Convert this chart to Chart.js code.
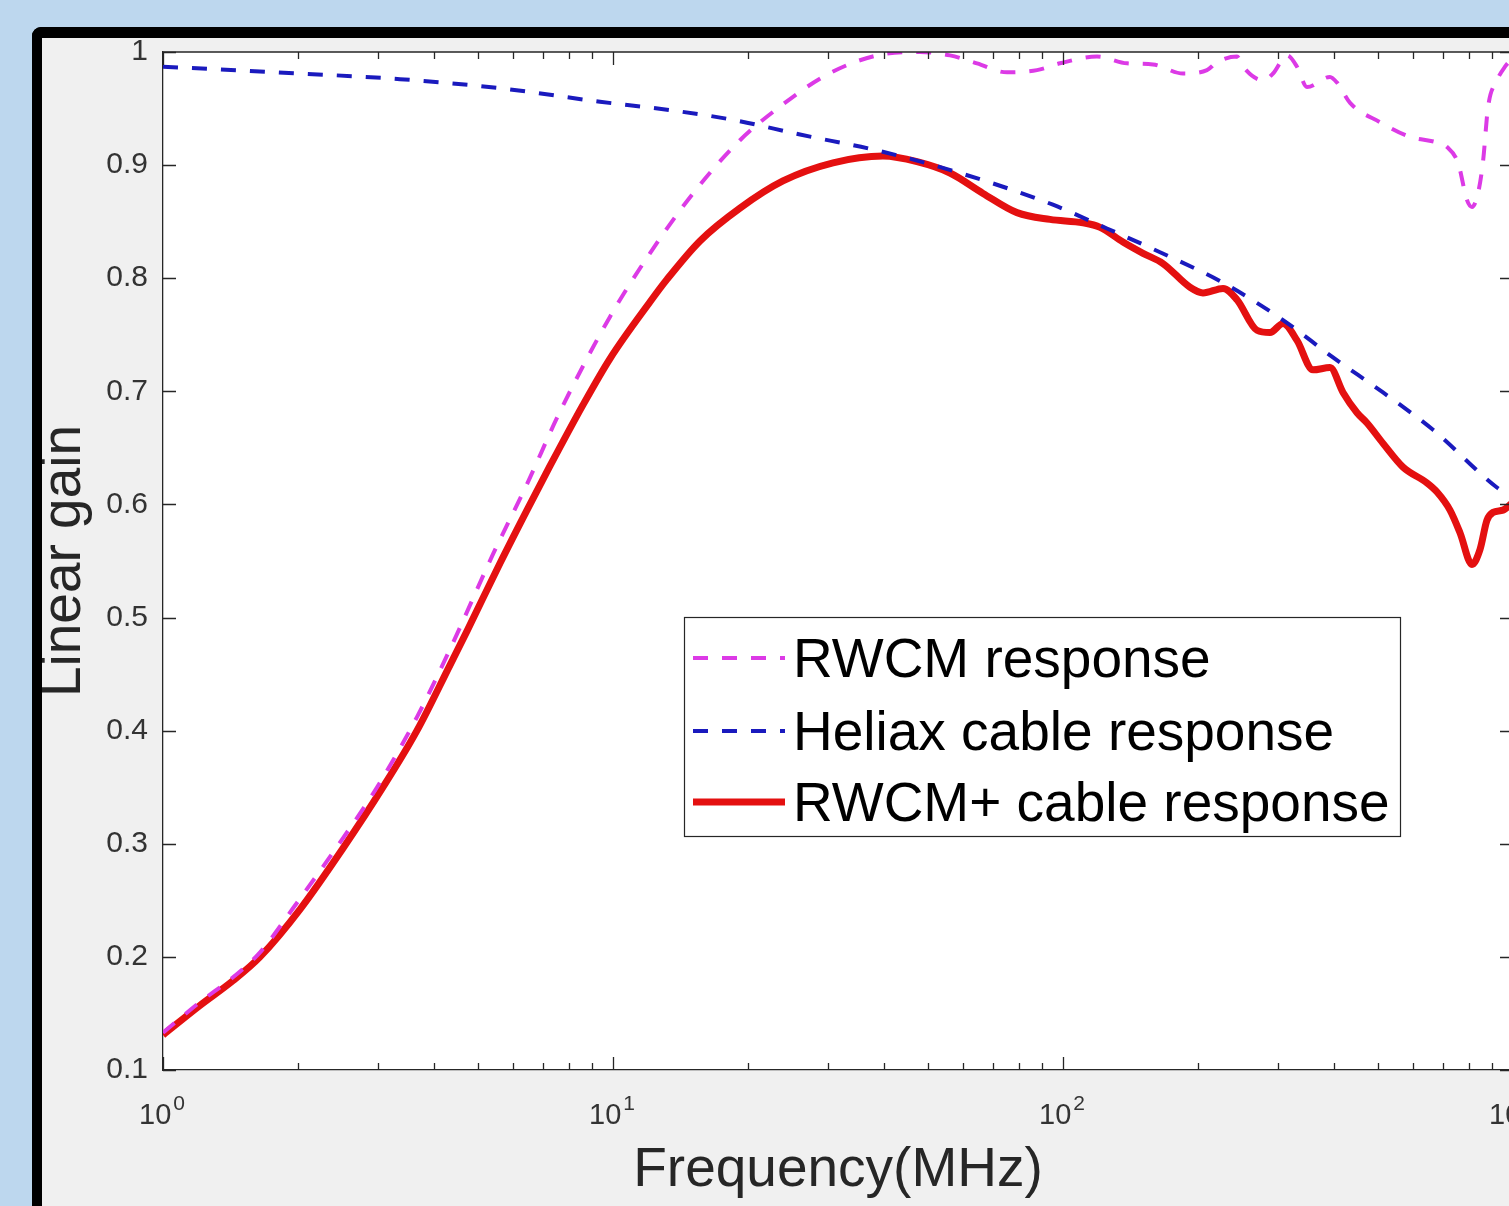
<!DOCTYPE html>
<html>
<head>
<meta charset="utf-8">
<script src="https://cdn.jsdelivr.net/npm/chart.js@4.4.1/dist/chart.umd.min.js"></script>
<style>
html,body{margin:0;padding:0;width:1509px;height:1206px;overflow:hidden;background:#bdd7ee;}
#frame{position:absolute;left:32px;top:27px;width:1600px;height:1300px;background:#f0f0f0;border-left:10px solid #000;border-top:11px solid #000;border-top-left-radius:9px;}
#c{position:absolute;left:0;top:0;}
</style>
</head>
<body>
<div id="frame"><canvas id="c" width="1500" height="1168"></canvas></div>
<script>
// ---------- data ----------
const seriesNames = ['RWCM response', 'Heliax cable response', 'RWCM+ cable response'];

const freqRWCM = [1.00, 1.208, 1.431, 1.643, 1.945, 2.512, 2.99, 3.667, 4.343, 5.412, 6.44, 7.624, 9.85, 12.08, 15.06, 19.15, 22.68, 29.9, 38.61, 48.11, 56.09, 64.4, 75.08, 87.54, 98.47, 119.0, 138.8, 158.5, 184.8, 208.9, 219.9, 243.6, 251.2, 278.3, 292.9, 314.6, 331.1, 348.5, 392.0, 406.3, 434.4, 506.3, 590.3, 677.9, 713.5, 754.8, 790.4, 810.6, 835.9, 857.7, 879.9, 921.2, 959.9, 1000];
const gainRWCM = [0.133, 0.160, 0.182, 0.204, 0.243, 0.305, 0.350, 0.412, 0.472, 0.556, 0.618, 0.682, 0.766, 0.822, 0.875, 0.922, 0.947, 0.980, 0.997, 1.0, 0.997, 0.990, 0.982, 0.984, 0.990, 0.996, 0.990, 0.989, 0.981, 0.984, 0.991, 0.996, 0.987, 0.975, 0.981, 0.997, 0.987, 0.969, 0.978, 0.973, 0.955, 0.938, 0.925, 0.920, 0.916, 0.902, 0.869, 0.863, 0.875, 0.903, 0.951, 0.975, 0.987, 0.995];

const freqCable = [1, 2.016, 3.362, 5.609, 9.357, 13.18, 18.48, 26.04, 38.61, 59.03, 94.98, 125.2, 164.3, 226.8, 308.3, 398.1, 514.2, 664.1, 921.2, 1000];
const gainCable = [0.987, 0.981, 0.976, 0.968, 0.956, 0.949, 0.940, 0.927, 0.913, 0.893, 0.865, 0.844, 0.823, 0.796, 0.763, 0.730, 0.699, 0.666, 0.615, 0.606];

const freqTotal = [1.00, 1.208, 1.431, 1.643, 2.016, 2.512, 3.082, 3.667, 4.343, 4.737, 5.609, 6.44, 7.244, 8.577, 9.85, 12.08, 13.18, 15.61, 19.15, 23.86, 30.83, 39.81, 47.37, 56.09, 66.42, 79.02, 93.57, 110.8, 120.9, 135.9, 150.6, 166.8, 191.5, 204.7, 226.8, 243.6, 269.8, 288.4, 308.3, 331.1, 359.4, 392.0, 419.0, 450.2, 473.8, 514.2, 569.6, 644.1, 677.9, 724.4, 762.4, 810.6, 844.5, 875.2, 902.8, 950.1, 1000];
const gainTotal = [0.131, 0.157, 0.179, 0.200, 0.242, 0.296, 0.350, 0.400, 0.458, 0.488, 0.548, 0.595, 0.634, 0.688, 0.729, 0.779, 0.799, 0.833, 0.862, 0.886, 0.902, 0.908, 0.903, 0.893, 0.875, 0.858, 0.852, 0.849, 0.845, 0.832, 0.822, 0.813, 0.792, 0.787, 0.791, 0.781, 0.754, 0.752, 0.760, 0.745, 0.719, 0.721, 0.699, 0.681, 0.672, 0.654, 0.633, 0.619, 0.611, 0.595, 0.575, 0.547, 0.560, 0.586, 0.593, 0.595, 0.602];

const yTicks = [0.1, 0.2, 0.3, 0.4, 0.5, 0.6, 0.7, 0.8, 0.9, 1.0];
const yTickLabels = ['0.1', '0.2', '0.3', '0.4', '0.5', '0.6', '0.7', '0.8', '0.9', '1'];
const xMajorTicks = [1, 10, 100, 1000];
const xTickBase = '10';
const xTickExponents = ['0', '1', '2', '3'];
const xTitle = 'Frequency(MHz)';
const yTitle = 'Linear gain';

// ---------- styling ----------
const FONT = '"Liberation Sans", Arial, Helvetica, sans-serif';
const AXIS = '#262626';
const TICKTXT = '#333333';
const COL_M = '#dc3ae6', COL_B = '#1a1abe', COL_R = '#e41010';
const DASH = [15, 14];

const pts = (xs, ys) => xs.map((x, i) => ({x: x, y: ys[i]}));

const matlabPlugin = {
  id: 'matlab',
  beforeDraw(chart) {
    const {ctx, chartArea: a} = chart;
    ctx.save();
    ctx.fillStyle = '#ffffff';
    ctx.fillRect(a.left, a.top, a.right - a.left, a.bottom - a.top);
    ctx.restore();
  },
  afterDraw(chart) {
    const {ctx, chartArea: a} = chart;
    const xs = chart.scales.x, ys = chart.scales.y;
    ctx.save();
    ctx.strokeStyle = AXIS;
    ctx.lineWidth = 1.3;
    // box
    ctx.beginPath();
    ctx.moveTo(a.left, a.top); ctx.lineTo(a.right, a.top);
    ctx.moveTo(a.right, a.top); ctx.lineTo(a.right, a.bottom);
    ctx.stroke();
    // x ticks (major + minor), inward, bottom & top
    ctx.beginPath();
    for (let d = 0; d < xMajorTicks.length; d++) {
      const dec = xMajorTicks[d];
      for (let m = 1; m <= 9; m++) {
        const v = dec * m;
        if (v > 1000) break;
        const px = Math.round(xs.getPixelForValue(v)) + 0.5;
        const len = m === 1 ? 13 : 7;
        ctx.moveTo(px, a.bottom); ctx.lineTo(px, a.bottom - len);
        ctx.moveTo(px, a.top); ctx.lineTo(px, a.top + len);
      }
    }
    // y ticks, inward, left & right
    yTicks.forEach(v => {
      const py = Math.round(ys.getPixelForValue(v)) + 0.5;
      ctx.moveTo(a.left, py); ctx.lineTo(a.left + 13, py);
      ctx.moveTo(a.right, py); ctx.lineTo(a.right - 13, py);
    });
    ctx.stroke();
    // x tick labels 10^n
    ctx.fillStyle = TICKTXT;
    ctx.textBaseline = 'alphabetic';
    ctx.textAlign = 'left';
    xMajorTicks.forEach((v, i) => {
      const px = xs.getPixelForValue(v);
      ctx.font = '29px ' + FONT;
      const wb = ctx.measureText(xTickBase).width;
      ctx.font = '21px ' + FONT;
      const we = ctx.measureText(xTickExponents[i]).width;
      const x0 = px - (wb + we + 2) / 2 - 1;
      ctx.font = '29px ' + FONT;
      ctx.fillText(xTickBase, x0, a.bottom + 54);
      ctx.font = '21px ' + FONT;
      ctx.fillText(xTickExponents[i], x0 + wb + 2, a.bottom + 40);
    });
    // legend
    const L = a.left + 521, T = a.top + 565, W = 716, H = 219;
    ctx.fillStyle = '#ffffff';
    ctx.fillRect(L, T, W, H);
    ctx.strokeStyle = AXIS;
    ctx.lineWidth = 1.2;
    ctx.strokeRect(L + 0.5, T + 0.5, W, H);
    const rows = [41, 114, 185];
    const styles = [
      {c: COL_M, w: 4, d: DASH},
      {c: COL_B, w: 4, d: DASH},
      {c: COL_R, w: 7, d: []}
    ];
    ctx.font = '55px ' + FONT;
    rows.forEach((ry, i) => {
      const y = T + ry;
      ctx.save();
      ctx.strokeStyle = styles[i].c;
      ctx.lineWidth = styles[i].w;
      ctx.setLineDash(styles[i].d);
      ctx.lineCap = 'butt';
      ctx.beginPath();
      ctx.moveTo(L + 9, y); ctx.lineTo(L + 101, y);
      ctx.stroke();
      ctx.restore();
      ctx.fillStyle = '#000000';
      ctx.fillText(seriesNames[i], L + 109, y + 19);
    });
    ctx.restore();
  }
};

new Chart(document.getElementById('c'), {
  type: 'line',
  data: {
    datasets: [
      {label: seriesNames[0], data: pts(freqRWCM, gainRWCM), borderColor: COL_M, borderWidth: 4, borderDash: DASH, order: 1},
      {label: seriesNames[1], data: pts(freqCable, gainCable), borderColor: COL_B, borderWidth: 4, borderDash: DASH, order: 0},
      {label: seriesNames[2], data: pts(freqTotal, gainTotal), borderColor: COL_R, borderWidth: 7, order: 2}
    ]
  },
  options: {
    responsive: false,
    animation: false,
    devicePixelRatio: 1,
    parsing: false,
    layout: {padding: {left: 0, top: 14, right: 29, bottom: 0}},
    plugins: {legend: {display: false}, tooltip: {enabled: false}},
    elements: {
      point: {radius: 0, hoverRadius: 0},
      line: {cubicInterpolationMode: 'monotone', borderCapStyle: 'butt', fill: false}
    },
    scales: {
      x: {
        type: 'logarithmic', min: 1, max: 1000, position: 'bottom',
        grid: {display: false, drawTicks: false},
        border: {display: true, color: AXIS, width: 1.3},
        ticks: {display: false},
        title: {display: true, text: xTitle, color: AXIS, font: {family: FONT, size: 55, lineHeight: 1.2}, padding: {top: 0, bottom: 2}},
        afterFit(s) { s.height = 136; s.paddingLeft = 0; s.paddingRight = 0; }
      },
      y: {
        type: 'linear', min: 0.1, max: 1, position: 'left',
        afterBuildTicks(s) { s.ticks = yTicks.map(v => ({value: v})); },
        ticks: {
          callback: (v) => yTickLabels[yTicks.findIndex(t => Math.abs(t - v) < 1e-9)],
          padding: 15, color: TICKTXT, font: {family: FONT, size: 30, lineHeight: 1}
        },
        grid: {display: false, drawTicks: false},
        border: {display: true, color: AXIS, width: 1.3},
        title: {display: true, text: yTitle, color: AXIS, font: {family: FONT, size: 55, lineHeight: 0.8}, padding: {top: 1, bottom: 0}},
        afterFit(s) { s.width = 121; s.paddingTop = 0; s.paddingBottom = 0; }
      }
    }
  },
  plugins: [matlabPlugin]
});
</script>
</body>
</html>
